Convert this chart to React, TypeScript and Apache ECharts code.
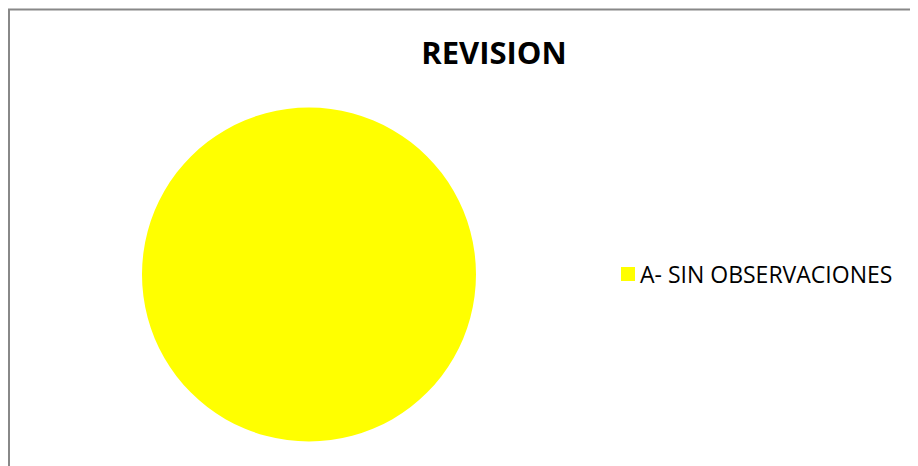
import React, { useEffect, useRef } from "react";
import * as echarts from "echarts";

const categories = ["A- SIN OBSERVACIONES"];
const values = [1];
const colors = ["#FFFF00"];
const titleText = "REVISION";

export default function App() {
  const ref = useRef<HTMLDivElement>(null);
  useEffect(() => {
    if (!ref.current) return;
    const prevOverflow = document.body.style.overflow;
    document.body.style.overflow = "hidden";
    const chart = echarts.init(ref.current, undefined, { renderer: "svg" });
    chart.setOption({
      animation: false,
      backgroundColor: "#ffffff",
      title: {
        text: titleText,
        left: 481,
        top: 23,
        textAlign: "center",
        textStyle: { fontFamily: "Open Sans", fontWeight: "bold", fontSize: 31, color: "#000" },
      },
      legend: {
        orient: "vertical",
        left: 608,
        top: 249.5,
        itemWidth: 14,
        itemHeight: 14,
        icon: "rect",
        itemGap: 6,
        textStyle: { fontFamily: "Open Sans", fontSize: 23, color: "#000" },
        data: categories,
      },
      graphic: [
        {
          type: "line",
          shape: { x1: 1, y1: 1.5, x2: 1, y2: 470 },
          style: { stroke: "#888888", lineWidth: 2 },
          silent: true,
        },
        {
          type: "line",
          shape: { x1: 0, y1: 1.5, x2: 915, y2: 1.5 },
          style: { stroke: "#888888", lineWidth: 2 },
          silent: true,
        },
      ],
      series: [
        {
          type: "pie",
          center: [301, 266.5],
          radius: 167,
          label: { show: false },
          labelLine: { show: false },
          itemStyle: { borderWidth: 0 },
          emphasis: { disabled: true },
          data: categories.map((c, i) => ({ name: c, value: values[i], itemStyle: { color: colors[i] } })),
        },
      ],
    });
    return () => {
      chart.dispose();
      document.body.style.overflow = prevOverflow;
    };
  }, []);
  return <div ref={ref} style={{ width: 910, height: 458, overflow: "hidden" }} />;
}
